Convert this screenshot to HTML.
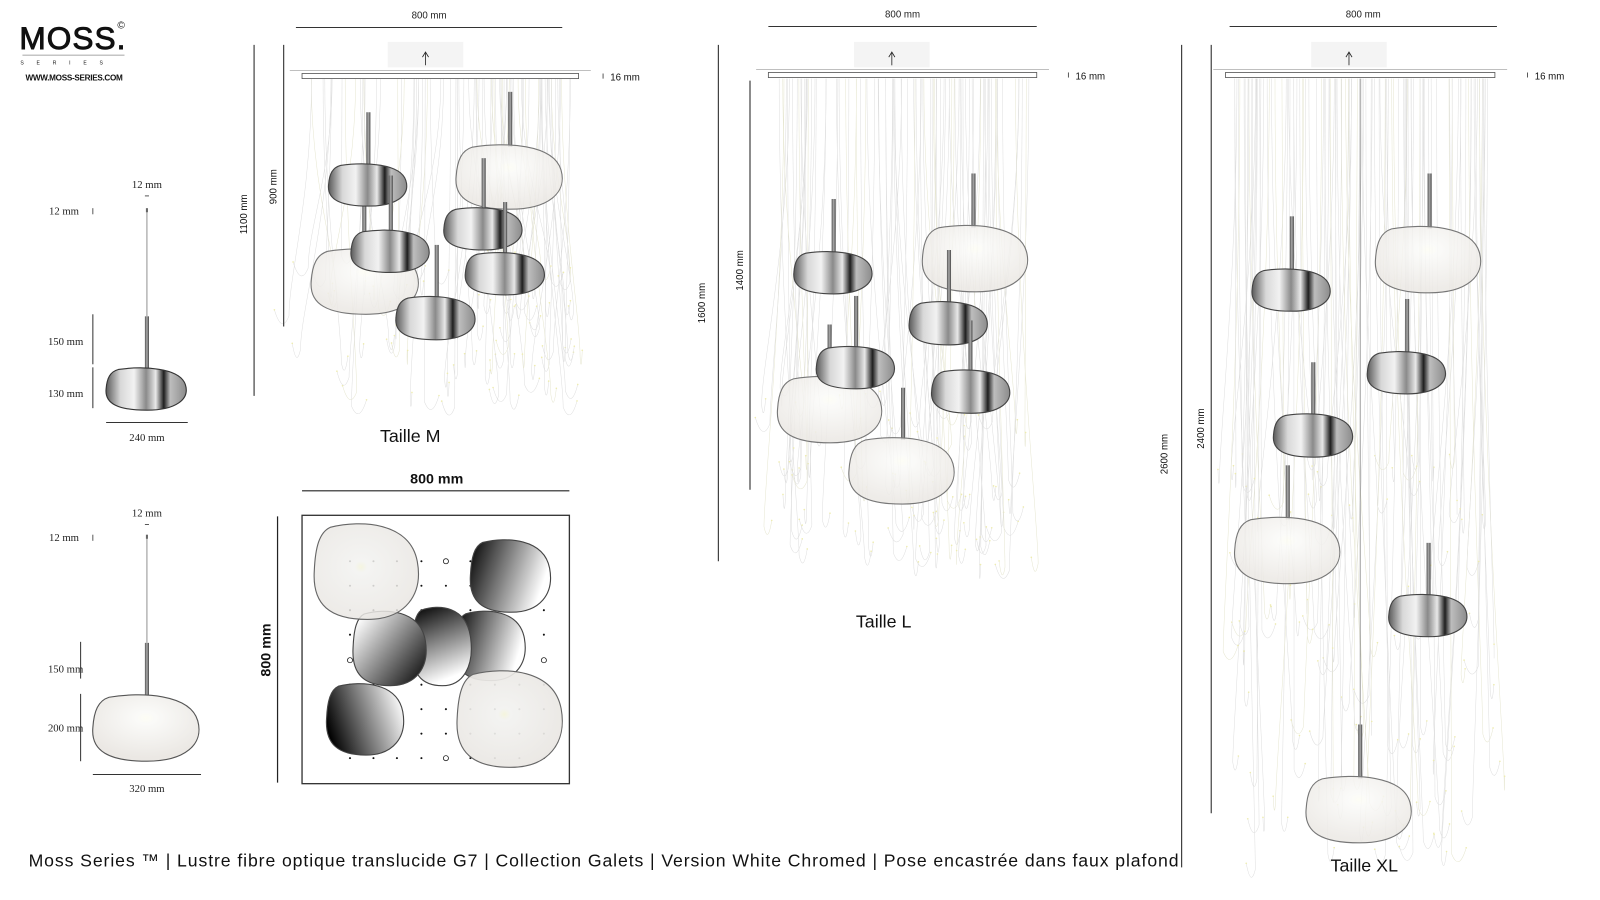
<!DOCTYPE html>
<html><head><meta charset="utf-8"><style>
html,body{margin:0;padding:0;background:#fff;width:1600px;height:900px;overflow:hidden}
svg{display:block}
.s{font-family:"Liberation Serif",serif;font-size:10.5px;fill:#222}
.a{font-family:"Liberation Sans",sans-serif;fill:#111}
</style></head><body>
<svg id="sv" width="1600" height="900" viewBox="0 0 1568 882" preserveAspectRatio="none" xmlns="http://www.w3.org/2000/svg">
<defs>
<linearGradient id="chr" x1="0" x2="1" y1="0" y2="0">
<stop offset="0" stop-color="#5a5a5a"/><stop offset="0.18" stop-color="#d8d8d8"/><stop offset="0.35" stop-color="#f2f2f2"/><stop offset="0.5" stop-color="#8a8a8a"/><stop offset="0.62" stop-color="#e8e8e8"/><stop offset="0.72" stop-color="#1e1e1e"/><stop offset="0.8" stop-color="#bdbdbd"/><stop offset="1" stop-color="#8c8c8c"/>
</linearGradient>
<radialGradient id="gl" cx="0.5" cy="0.35" r="0.6">
<stop offset="0" stop-color="#fdfdf4"/><stop offset="0.15" stop-color="#fafaf8"/><stop offset="1" stop-color="#ebe8e4"/>
</radialGradient>
<radialGradient id="glp" cx="0.45" cy="0.45" r="0.6">
<stop offset="0" stop-color="#f3f3da"/><stop offset="0.1" stop-color="#f2f2f0"/><stop offset="1" stop-color="#e9e6e2"/>
</radialGradient>
<linearGradient id="g1" x1="0" x2="1" y1="0" y2="0.3"><stop offset="0" stop-color="#000"/><stop offset="1" stop-color="#fff"/></linearGradient>
<linearGradient id="g2" x1="0" x2="1" y1="0.2" y2="1"><stop offset="0" stop-color="#fff"/><stop offset="1" stop-color="#000"/></linearGradient>
<linearGradient id="g3" x1="0" x2="0.3" y1="0" y2="1"><stop offset="0" stop-color="#000"/><stop offset="1" stop-color="#fff"/></linearGradient>
<linearGradient id="g4" x1="0" x2="1" y1="0.6" y2="0.3"><stop offset="0" stop-color="#000"/><stop offset="1" stop-color="#fff"/></linearGradient>
<linearGradient id="rod" x1="0" x2="1"><stop offset="0" stop-color="#555"/><stop offset="0.5" stop-color="#aaa"/><stop offset="1" stop-color="#444"/></linearGradient>
</defs>
<g id="fib" fill="none"></g>
<g id="main"></g>
<!-- logo -->
<text x="19" y="48" class="a" style="font-size:31px;letter-spacing:1px" stroke="#111" stroke-width="0.9">MOSS.</text>
<text x="115" y="28" class="a" style="font-size:10px">©</text>
<line x1="22" y1="54" x2="122" y2="54" stroke="#888" stroke-width="0.8"/>
<text x="20" y="63" class="a" style="font-size:5px;letter-spacing:12.5px">SERIES</text>
<text x="25" y="79" class="a" style="font-size:8px;font-weight:bold;letter-spacing:-0.3px">WWW.MOSS-SERIES.COM</text>
<!-- caption -->
<text x="28" y="849" class="a" style="font-size:17.3px" textLength="1127" lengthAdjust="spacing">Moss Series ™  | Lustre fibre optique translucide G7 | Collection Galets | Version White Chromed | Pose encastrée dans faux plafond</text>
<text x="402" y="433" class="a" text-anchor="middle" style="font-size:17.5px">Taille M</text>
<text x="866" y="615" class="a" text-anchor="middle" style="font-size:17.5px">Taille L</text>
<text x="1337" y="854" class="a" text-anchor="middle" style="font-size:17.5px">Taille XL</text>
</svg>
<script>
var NS="http://www.w3.org/2000/svg",M=document.getElementById('main'),F=document.getElementById('fib');
function el(t,a,p){var e=document.createElementNS(NS,t);for(var k in a)e.setAttribute(k,a[k]);(p||M).appendChild(e);return e}
function tx(x,y,s,cls,extra){var a={x:x,y:y,'class':cls||'s'};for(var k in extra)a[k]=extra[k];var e=el('text',a);e.textContent=s;return e}
function ln(x1,y1,x2,y2,c,w){el('line',{x1:x1,y1:y1,x2:x2,y2:y2,stroke:c||'#333','stroke-width':w||1})}
function peb(x1,y1,x2,y2,fill,st,op){var w=x2-x1,h=y2-y1;function X(f){return (x1+f*w).toFixed(1)}function Y(f){return (y1+f*h).toFixed(1)}
var d='M'+X(.15)+','+Y(.05)+' C'+X(.45)+','+Y(-.03)+' '+X(.9)+','+Y(0)+' '+X(.97)+','+Y(.4)+' C'+X(1.03)+','+Y(.75)+' '+X(.85)+','+Y(1)+' '+X(.5)+','+Y(1)+' C'+X(.15)+','+Y(1)+' '+X(-.02)+','+Y(.85)+' '+X(0)+','+Y(.5)+' C'+X(.01)+','+Y(.25)+' '+X(.05)+','+Y(.1)+' '+X(.15)+','+Y(.05)+' Z';
el('path',{d:d,fill:fill,stroke:st||'#555','stroke-width':1.1,'fill-opacity':op||1})}
function rod(x,y1,y2){el('rect',{x:x-2,y:y1,width:4,height:y2-y1,fill:'url(#rod)'})}
function lamp(x1,y1,x2,y2,type,rx,ry1){var cx=rx||(x1+x2)/2;rod(cx,ry1,y1+3);if(type=='c')peb(x1,y1,x2,y2,'url(#chr)','#444');else peb(x1,y1,x2,y2,'url(#gl)','#777',0.85)}
function pend(top,rodT,py1,py2,px1,px2,type){var cx=144;ln(cx,top,cx,rodT,'#777',0.8);el('rect',{x:cx-1,y:top-3,width:2,height:4,fill:'#666'});rod(cx,rodT,py1+3);
if(type=='c')peb(px1,py1,px2,py2,'url(#chr)','#333');else peb(px1,py1,px2,py2,'url(#gl)','#555');}
pend(207,310,360,402,104,184,'c');
tx(144,184,'12 mm','s',{'text-anchor':'middle'});ln(142,192,146,192,'#333',0.8);
tx(48,210,'12 mm');ln(91,204,91,210,'#333',0.8);
tx(47,338,'150 mm');ln(91,308,91,357);
tx(47,389,'130 mm');ln(91,360,91,400);
tx(144,432,'240 mm','s',{'text-anchor':'middle'});ln(104,414,184,414);
pend(527,630,680,746,91,197,'g');
tx(144,506,'12 mm','s',{'text-anchor':'middle'});ln(142,514,146,514,'#333',0.8);
tx(48,530,'12 mm');ln(91,524,91,530,'#333',0.8);
tx(47,659,'150 mm');ln(79,629,79,665);
tx(47,717,'200 mm');ln(79,680,79,746);
tx(144,776,'320 mm','s',{'text-anchor':'middle'});ln(91,759,197,759);
var seed=7;function r(){seed=(seed*16807)%2147483647;return seed/2147483647}
function fibers(x1,x2,by,ymin,ymax,n){for(var i=0;i<n;i++){var x0=x1+r()*(x2-x1),xe=x0+(r()-.5)*60,ye=ymin+r()*(ymax-ymin),dx=(r()-.5)*30;
var d='M'+x0.toFixed(1)+','+by+' C'+x0.toFixed(1)+','+(by+(ye-by)*.5).toFixed(1)+' '+xe.toFixed(1)+','+(ye-40).toFixed(1)+' '+xe.toFixed(1)+','+ye.toFixed(1)+' Q'+(xe+dx/2).toFixed(1)+','+(ye+18).toFixed(1)+' '+(xe+dx).toFixed(1)+','+(ye-6).toFixed(1);
el('path',{d:d,stroke:(i%5==0?'#e6e6d0':'#dedede'),'stroke-width':0.5},F);el('circle',{cx:(xe+dx).toFixed(1),cy:(ye-6).toFixed(1),r:0.8,fill:'#eeecb0'},F)}}
function head(L,R,dx1,dx2,dimY,box,bary,tick){tx((dx1+dx2)/2,dimY-9,'800 mm','s',{'text-anchor':'middle',style:'font-family:Liberation Sans,sans-serif;font-size:9.5px'});ln(dx1,dimY,dx2,dimY,'#333',1);
el('rect',{x:box,y:41,width:74,height:25,fill:'#f4f4f4'});ln(box+37,64,box+37,52,'#222',0.8);el('path',{d:'M'+(box+34)+',56 L'+(box+37)+',51 L'+(box+40)+',56',fill:'none',stroke:'#222','stroke-width':0.8});
ln(L-12,bary-3,R+12,bary-3,'#999',0.6);el('rect',{x:L,y:bary,width:R-L,height:5,fill:'#fff',stroke:'#555','stroke-width':0.8});
ln(tick,bary,tick,bary+5,'#333',0.8);tx(tick+7,bary+7,'16 mm','a',{style:'font-size:9.5px'})}
head(296,567,290,551,27,380,72,591);
fibers(305,560,77,250,400,90);
head(753,1016,753,1016,26,837,71,1047);
fibers(760,1010,77,380,560,95);
head(1201,1465,1205,1467,26,1285,71,1497);
fibers(1210,1460,77,450,860,115);
function vd(x,y1,y2,lab,lx,ly){ln(x,y1,x,y2,'#333',1.1);tx(0,0,lab,'a',{transform:'translate('+lx+','+ly+') rotate(-90)','text-anchor':'middle',style:'font-size:9.5px'})}
vd(249,44,388,'1100 mm',242,210);vd(278,44,320,'900 mm',271,183);
vd(704,44,550,'1600 mm',691,297);vd(735,79,480,'1400 mm',728,265);
vd(1158,44,850,'2600 mm',1144,445);vd(1187,44,797,'2400 mm',1180,420);
lamp(305,243,412,308,'g',357,196);
lamp(447,141,553,205,'g',500,90);
lamp(322,160,400,202,'c',361,110);
lamp(435,203,513,245,'c',474,155);
lamp(344,225,422,267,'c',383,172);
lamp(456,247,535,289,'c',495,198);
lamp(388,290,467,333,'c',428,240);
lamp(778,246,856,288,'c',817,195);
lamp(904,220,1009,286,'g',954,170);
lamp(891,295,969,338,'c',930,245);
rod(813,318,370);
lamp(762,368,866,434,'g',813,370);
lamp(800,339,878,381,'c',839,290);
lamp(913,362,991,405,'c',951,314);
lamp(832,428,937,494,'g',885,380);
ln(1333,77,1333,710,'#888',0.8);
lamp(1227,263,1305,305,'c',1266,212);
lamp(1348,221,1453,287,'g',1401,170);
lamp(1340,344,1418,386,'c',1379,293);
lamp(1248,405,1327,448,'c',1287,355);
lamp(1210,506,1315,572,'g',1262,456);
lamp(1361,582,1439,624,'c',1400,532);
lamp(1280,760,1385,826,'g',1333,710);
tx(428,474,'800 mm','a',{'text-anchor':'middle',style:'font-size:14px;font-weight:bold'});ln(296,481,558,481,'#222',1.2);
tx(0,0,'800 mm','a',{transform:'translate(265,637) rotate(-90)','text-anchor':'middle',style:'font-size:14px;font-weight:bold'});ln(272,506,272,767,'#222',1.2);
el('rect',{x:296,y:505,width:262,height:263,fill:'#fff',stroke:'#333','stroke-width':1.3});
var cols=[343,366,389,413,437,461,485,509,533],rows=[550,574,598,622,647,671,695,719,743];
rows.forEach(function(y){cols.forEach(function(x){el('circle',{cx:x,cy:y,r:1,fill:'#111'})})});
[[437,550],[343,647],[533,647],[437,743]].forEach(function(p){el('circle',{cx:p[0],cy:p[1],r:2.5,fill:'#fff',stroke:'#222','stroke-width':0.8})});
peb(461,528,541,600,'url(#g1)','#444');
peb(320,669,397,740,'url(#g4)','#444');
peb(446,598,516,667,'url(#g1)','#444');
peb(404,594,463,672,'url(#g3)','#444');
peb(346,598,419,672,'url(#g2)','#444');
peb(308,512,412,607,'url(#glp)','#666',0.85);
peb(448,656,553,752,'url(#glp)','#666',0.92);
</script>
</body></html>
